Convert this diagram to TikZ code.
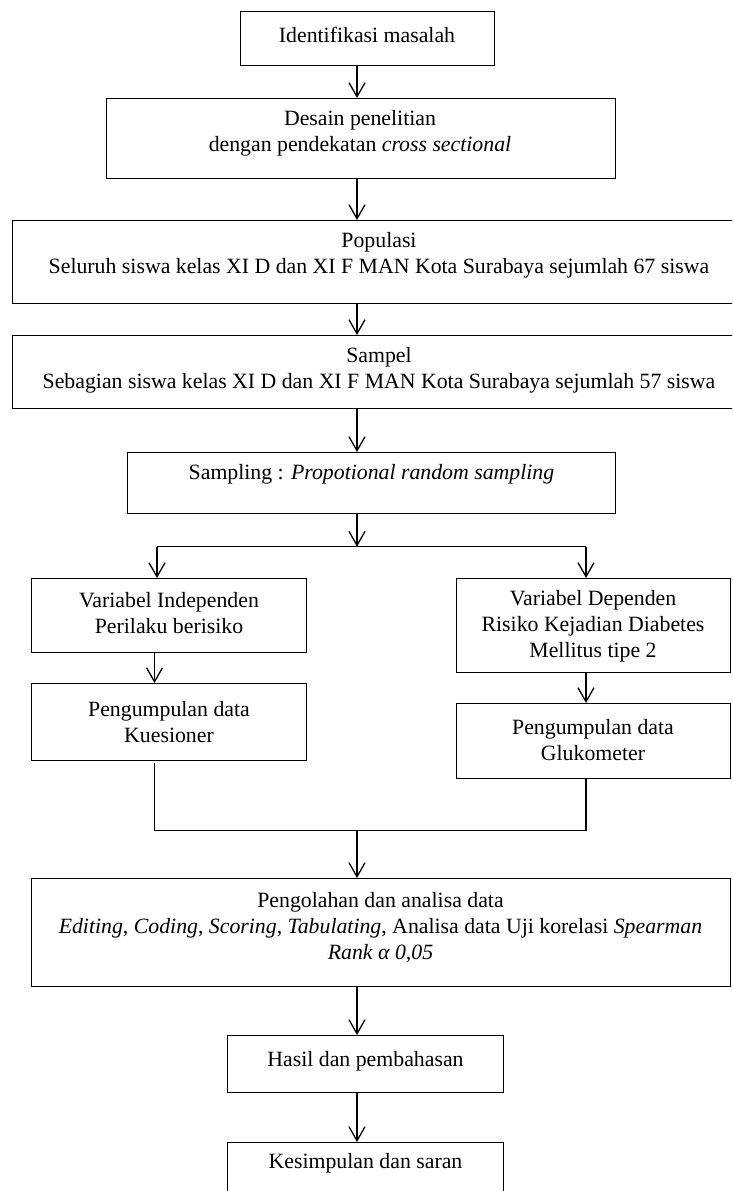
\documentclass[tikz,border=0pt]{standalone}
\usepackage{fontspec}
\setmainfont{Liberation Serif}
\usetikzlibrary{arrows.meta}
\begin{document}
\begin{tikzpicture}[x=1pt,y=-1pt,
  box/.style={draw, line width=1.3pt, inner sep=0pt, anchor=north west},
  txt/.style={align=center, font=\fontsize{21.8}{26}\selectfont, inner sep=0pt, anchor=center},
  arr/.style={-{Straight Barb[length=14pt,width=16pt,line width=1.3pt]}, line width=1.3pt},
  ln/.style={line width=1.3pt}]
\useasboundingbox (0,0) rectangle (732,1191);
\clip (0,0) rectangle (732,1191);
% boxes
\node[box, minimum width=254pt, minimum height=54pt] (b1) at (240,11) {};
\node[box, minimum width=509.5pt, minimum height=80pt] (b2) at (105.5,98) {};
\node[box, minimum width=740pt, minimum height=83pt] (b3) at (12,220) {};
\node[box, minimum width=740pt, minimum height=73pt] (b4) at (12,335) {};
\node[box, minimum width=488pt, minimum height=61pt] (b5) at (127,452) {};
\node[box, minimum width=275pt, minimum height=74pt] (b6) at (31,578) {};
\node[box, minimum width=274pt, minimum height=94pt] (b7) at (456,578) {};
\node[box, minimum width=275pt, minimum height=77pt] (b8) at (31,683) {};
\node[box, minimum width=274pt, minimum height=75pt] (b9) at (456,703) {};
\node[box, minimum width=699pt, minimum height=108pt] (b10) at (31,878) {};
\node[box, minimum width=276pt, minimum height=57pt] (b11) at (227,1035) {};
\node[box, minimum width=276pt, minimum height=80pt] (b12) at (227,1142) {};
% texts
\node[txt] (t1) at (367,35) {Identifikasi masalah};
\node[txt] (t2) at (360,133) {Desain penelitian\\dengan pendekatan \textit{cross sectional}};
\node[txt] (t3) at (379,255) {Populasi\\Seluruh siswa kelas XI D dan XI F MAN Kota Surabaya sejumlah 67 siswa};
\node[txt] (t4) at (379,370) {Sampel\\Sebagian siswa kelas XI D dan XI F MAN Kota Surabaya sejumlah 57 siswa};
\node[txt] (t5) at (371.5,474) {Sampling : \textit{Propotional random sampling}};
\node[txt] (t6) at (169,613.5) {Variabel Independen\\Perilaku berisiko};
\node[txt] (t7) at (593,626) {Variabel Dependen\\Risiko Kejadian Diabetes\\Mellitus tipe 2};
\node[txt] (t8) at (169,722) {Pengumpulan data\\Kuesioner};
\node[txt] (t9) at (593,740.5) {Pengumpulan data\\Glukometer};
\node[txt] (t10) at (380.5,928) {Pengolahan dan analisa data\\\textit{Editing}, \textit{Coding}, \textit{Scoring}, \textit{Tabulating}, Analisa data Uji korelasi \textit{Spearman}\\\textit{Rank α 0,05}};
\node[txt] (t11) at (365.5,1061) {Hasil dan pembahasan};
\node[txt] (t12) at (365.5,1163) {Kesimpulan dan saran};
% coordinates
\coordinate (mx) at (357,0);
\coordinate (lx) at (157,0);
\coordinate (lx2) at (154.5,0);
\coordinate (rx) at (586,0);
\coordinate (split) at (357,546.7);
\coordinate (splitL) at (157,546.7);
\coordinate (splitR) at (586,546.7);
\coordinate (k0) at (154.5,762.7);
\coordinate (joinL) at (154.5,830.7);
\coordinate (joinR) at (586,830.7);
\coordinate (join) at (357,830.7);
% connectors
\draw[arr] (b1.south -| mx) -- (b2.north -| mx);
\draw[arr] (b2.south -| mx) -- (b3.north -| mx);
\draw[arr] (b3.south -| mx) -- (b4.north -| mx);
\draw[arr] (b4.south -| mx) -- (b5.north -| mx);
\draw[arr] (b5.south -| mx) -- (split);
\draw[ln] (splitL) -- (splitR);
\draw[arr] (splitL) -- (b6.north -| lx);
\draw[arr] (splitR) -- (b7.north -| rx);
\draw[arr] (b6.south -| lx2) -- (b8.north -| lx2);
\draw[arr] (b7.south -| rx) -- (b9.north -| rx);
\draw[ln] (k0) -- (joinL) -- (joinR) -- (b9.south -| rx);
\draw[arr] (join) -- (b10.north -| mx);
\draw[arr] (b10.south -| mx) -- (b11.north -| mx);
\draw[arr] (b11.south -| mx) -- (b12.north -| mx);
\end{tikzpicture}
\end{document}
